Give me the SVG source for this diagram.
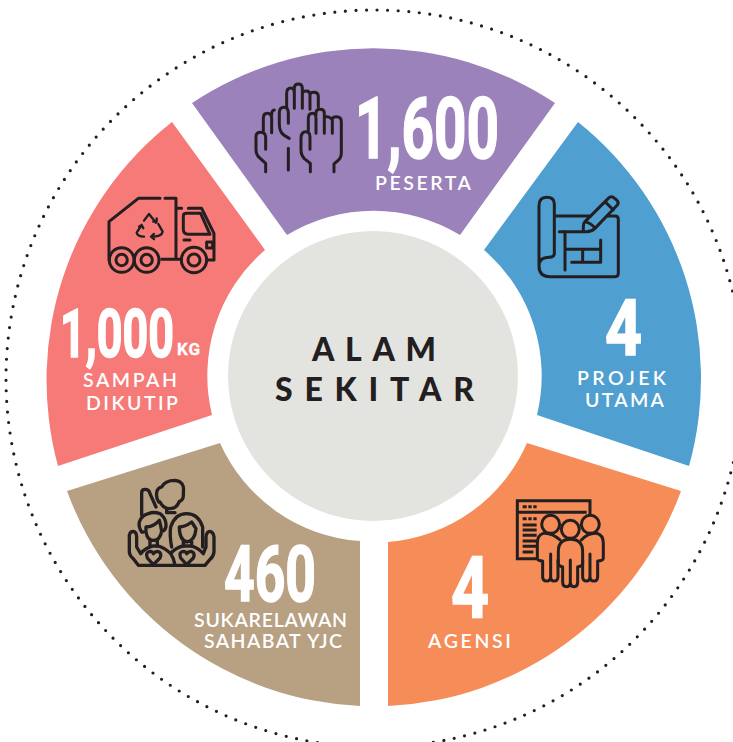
<svg xmlns="http://www.w3.org/2000/svg" width="733" height="742" viewBox="0 0 733 742">
<style>
.big{font-family:"Roboto","Liberation Sans",sans-serif;font-weight:700;fill:#fff;stroke:#fff;stroke-width:1.6}
.lab{font-family:"Lato","Liberation Sans",sans-serif;font-weight:600;fill:#fff;font-size:19.5px}
.ttl{font-family:"Lato","Liberation Sans",sans-serif;font-weight:900;fill:#231f20;font-size:32px}
.ic{fill:none;stroke:#231f20;stroke-width:9;stroke-linecap:round;stroke-linejoin:round}
</style>
<rect width="733" height="742" fill="#fff"/>
<circle id="dots" cx="374.5" cy="378.5" r="368.5" fill="none" stroke="#231f20" stroke-width="3.2" stroke-linecap="round" stroke-dasharray="0 10.6"/>
<g id="peserta">
<path d="M192 103A328 328 0 0 1 555 103L460 235A166 166 0 0 0 287 235Z" fill="#9b82bb"/>
<g class="ic" transform="translate(180 60) scale(.3333)">
<path d="M325 265V330M328 235C305 225 298 215 298 190V160Q298 142 312 142Q325 142 325 160V190M320 145V100Q320 84 333 84Q343 84 343 100V145M343 100V85Q343 72 355 72Q367 72 367 85V145M367 100Q367 93 380 93Q390 93 390 105V148M390 105Q390 97 402 97Q415 97 415 110V140"/>
<path d="M257 335V310L235 290Q228 282 228 270V230Q228 217 242 217Q257 217 257 232V268M250 215V175Q250 160 262 160Q275 160 275 175V218M275 165Q275 150 283 150"/>
<path d="M391 335V310L372 295Q363 285 363 270V235Q363 215 378 215Q390 215 390 232V268M385 212V175Q385 160 398 160Q408 160 408 175V220M408 165V160Q408 148 420 148Q433 148 433 160V220M433 170Q445 168 457 178V220M457 178Q457 170 470 170Q484 170 484 185V280Q484 295 470 305L462 312V335"/>
</g>
<text class="big" x="355" y="158" font-size="86" textLength="144" lengthAdjust="spacingAndGlyphs">1,600</text>
<text class="lab" x="375" y="190" textLength="96">PESERTA</text>
</g>
<g id="projek">
<path d="M578 122A328 328 0 0 1 689 466L537 415A166 166 0 0 0 484 250Z" fill="#4f9fd0"/>
<g class="ic" transform="translate(520 180) scale(.3333)">
<path d="M103 108H212M262 108H285Q295 108 295 118V280Q295 290 285 290H90Q57 290 57 258V78Q57 52 80 52Q103 52 103 72V220Q103 232 88 232Q57 232 57 258"/>
<path d="M118 155H200Q215 155 225 145L292 75Q298 68 290 60L280 52Q272 48 265 55L195 125Q190 130 190 140V155M195 125Q215 130 225 145M255 65L280 90"/>
<path d="M135 155V270M135 208H242V180M155 247H242V208M188 208V247"/>
</g>
<text class="big" x="605" y="355" font-size="77" textLength="37" lengthAdjust="spacingAndGlyphs">4</text>
<text class="lab" x="577" y="385" textLength="89">PROJEK</text>
<text class="lab" x="585" y="407" textLength="79">UTAMA</text>
</g>
<g id="agensi">
<path d="M681 491A328 328 0 0 1 388 706V542A166 166 0 0 0 527 443Z" fill="#f68c58"/>
<g class="ic" transform="translate(420 480) scale(.3333)">
<path stroke-linecap="butt" stroke-linejoin="miter" d="M510 105V62H292V236H350M292 97H500M308 116H320M325 116H335M340 116H350M308 80H320M325 80H335M340 80H350M308 135H350M308 150H350M308 166H350M308 183H350M308 199H350M308 216H340"/>
<circle cx="392" cy="133" r="27"/><circle cx="511" cy="133" r="27"/><circle cx="451" cy="148" r="27"/>
<path d="M420 180Q395 158 370 160Q352 165 352 190V235Q352 243 368 243V290Q368 303 380 303Q392 303 392 290V222M392 290Q392 303 402 303Q414 303 414 290V240"/>
<path d="M484 180Q505 158 530 160Q550 165 550 190V235Q550 243 533 243V290Q533 303 522 303Q510 303 510 290V222M510 290Q510 303 500 303Q488 303 488 290V240"/>
<path d="M451 178Q415 178 415 215V250Q415 260 428 260V305Q428 320 440 320Q451 320 451 305V240M451 305Q451 320 462 320Q473 320 473 305V260Q488 260 488 250V215Q488 178 451 178"/>
</g>
<text class="big" x="451" y="617" font-size="86" textLength="38" lengthAdjust="spacingAndGlyphs">4</text>
<text class="lab" x="428" y="648" textLength="83">AGENSI</text>
</g>
<g id="sukarelawan">
<path d="M360 706A328 328 0 0 1 67 491L220 443A166 166 0 0 0 360 541Z" fill="#b8a083"/>
<g class="ic" style="stroke-width:10" transform="translate(120 472) scale(.3333)">
<path d="M120 90H116Q108 80 110 62Q112 48 125 45Q135 25 165 25Q195 28 190 62Q192 85 178 88Q170 110 150 110Q130 110 120 90ZM140 112V122H165M65 130V62Q65 52 75 52Q88 52 90 65L108 105"/>
<path d="M70 180H65Q55 165 58 150Q65 130 85 125Q100 118 120 125Q135 135 138 155Q140 175 125 178Q120 205 100 205Q82 205 78 180M78 180V165Q100 165 118 145Q122 158 125 178M90 205V222M112 205V222"/>
<path d="M155 225Q148 190 152 165Q165 125 200 125Q235 125 248 165V225M178 165Q195 165 215 150Q225 165 228 170Q225 205 202 210Q178 205 178 165ZM190 208V222M215 208V222"/>
<path d="M55 280H255M55 280L40 260Q28 250 28 240V190Q30 178 40 178Q50 180 50 195V225L62 245Q75 228 100 222H115Q135 228 152 245Q165 228 190 222H215Q235 228 250 245L258 225V195Q260 178 270 178Q280 180 282 195V240Q280 255 270 262L255 280M152 245Q162 260 165 278"/>
<path d="M100 278L82 258Q75 240 90 238Q97 238 100 245Q105 238 113 238Q127 242 120 258Z"/>
<path d="M200 278L182 258Q175 240 190 238Q197 238 200 245Q205 238 213 238Q227 242 220 258Z"/>
</g>
<text class="big" x="224" y="601" font-size="78" textLength="92" lengthAdjust="spacingAndGlyphs">460</text>
<text class="lab" x="194" y="627" textLength="153">SUKARELAWAN</text>
<text class="lab" x="204" y="648" textLength="138">SAHABAT YJC</text>
</g>
<g id="sampah">
<path d="M58 466A328 328 0 0 1 172 122L265 250A166 166 0 0 0 212 415Z" fill="#f57a78"/>
<g class="ic" transform="translate(40 180) scale(.3333)">
<path d="M360 55H295L207 125V240M375 55H408V235M365 238H425M410 85H425M445 85H485L522 160V240H500"/>
<path d="M430 108Q430 100 440 100H482L510 163H445Q430 163 430 148Z"/>
<path d="M432 180H450M500 186H518V204H500Z"/>
<circle cx="245" cy="240" r="37"/><circle cx="245" cy="240" r="17"/>
<circle cx="320" cy="240" r="37"/><circle cx="320" cy="240" r="17"/>
<circle cx="462" cy="240" r="38"/><circle cx="462" cy="240" r="18"/>
<path stroke-width="7" d="M312 122L327 102L348 128M340 125H350V115M305 135L290 158Q292 170 312 170M297 140L305 135L310 145M355 132L368 155Q365 170 335 170M342 162L333 170L342 177"/>
</g>
<text class="big" x="60" y="357" font-size="67" textLength="114" lengthAdjust="spacingAndGlyphs">1,000</text>
<text class="big" style="stroke-width:.3" x="177" y="355" font-size="17" textLength="23">KG</text>
<text class="lab" x="83" y="387" textLength="94">SAMPAH</text>
<text class="lab" x="86" y="410" textLength="92">DIKUTIP</text>
</g>
<g id="alam-sekitar">
<circle cx="373" cy="376" r="145" fill="#e3e4e0"/>
<text class="ttl" x="312" y="361" textLength="124">ALAM</text>
<text class="ttl" x="275" y="401" textLength="199">SEKITAR</text>
</g>
</svg>
